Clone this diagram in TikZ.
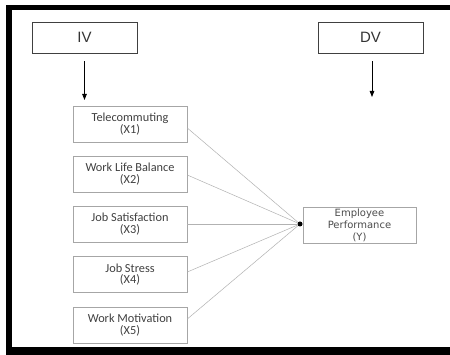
\documentclass[tikz,border=0pt]{standalone}
\usepackage{fontspec}
\setmainfont{Carlito}
\newfontfamily\headfont{Liberation Sans}
\newfontfamily\outfont{DejaVu Sans}
\usetikzlibrary{arrows.meta}
\begin{document}
\begin{tikzpicture}[x=1pt,y=-1pt,
  varbox/.style={draw=black!75,line width=0.8pt,minimum width=105pt,minimum height=31pt,
    inner sep=0pt,font=\headfont\fontsize{15}{17}\selectfont,text=black!80},
  factor/.style={draw=black!35,line width=0.6pt,minimum width=114pt,minimum height=36pt,
    inner sep=0pt,align=center,font=\fontsize{12.3}{11.5}\selectfont,text=black!75},
  result/.style={factor,minimum width=113pt,font=\outfont\fontsize{10}{12}\selectfont,text=black!70},
  link/.style={draw=black!30,line width=0.5pt},
  down/.style={-{Triangle[length=6pt,width=4.5pt]},line width=0.8pt,black}]
  \useasboundingbox (0,0) rectangle (450,355);
  \fill[white] (0,0) rectangle (450,355);
  % heavy outer frame (open to the right)
  \fill[black] (6,5) rectangle (450,10);
  \fill[black] (6,5) rectangle (12,355);
  \fill[black] (6,347) rectangle (450,355);

  % headings
  \node[varbox] (iv) at (84.5,37.5) {IV};
  \node[varbox] (dv) at (370.5,37.5) {DV};
  \coordinate (ivtip) at (84.5,100);
  \coordinate (dvtip) at (372,97);
  \draw[down] ([yshift=-8pt]iv.south) -- (ivtip);
  \draw[down] ([xshift=1.5pt,yshift=-8pt]dv.south) -- (dvtip);

  % independent variables
  \node[factor] (x1) at (130,124) {Telecommuting\\(X1)};
  \node[factor] (x2) at (130,174) {Work Life Balance\\(X2)};
  \node[factor] (x3) at (130,224) {Job Satisfaction\\(X3)};
  \node[factor] (x4) at (130,274.5) {Job Stress\\(X4)};
  \node[factor] (x5) at (130,325) {Work Motivation\\(X5)};

  % dependent variable
  \node[result] (y) at (359.5,225) {Employee\\Performance\\(Y)};
  \node[circle,fill=black,inner sep=0pt,minimum size=5pt] (hub) at (300,224) {};

  \draw[link] ([yshift=-4pt]x1.east) -- (hub);
  \draw[link] ([yshift=-1pt]x2.east) -- (hub);
  \draw[link] (x3.east) -- (hub);
  \draw[link] ([yshift=2.5pt]x4.east) -- (hub);
  \draw[link] ([yshift=6pt]x5.east) -- (hub);
\end{tikzpicture}
\end{document}
